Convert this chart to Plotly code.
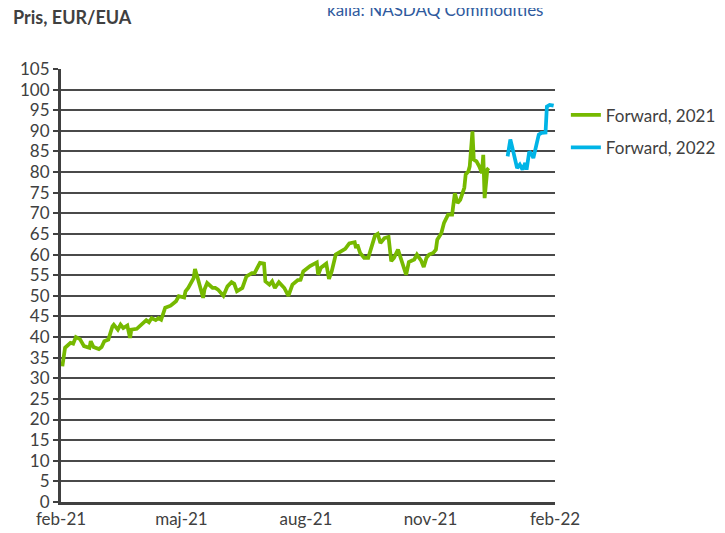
import plotly.graph_objects as go

# Forward, 2021 contract (EUR/EUA)
dates_2021 = [
    "2021-02-02", "2021-02-04", "2021-02-08", "2021-02-10", "2021-02-12", "2021-02-15",
    "2021-02-18", "2021-02-22", "2021-02-23", "2021-02-25", "2021-03-01", "2021-03-03",
    "2021-03-05", "2021-03-08", "2021-03-11", "2021-03-12", "2021-03-15", "2021-03-17",
    "2021-03-19", "2021-03-22", "2021-03-24", "2021-03-25", "2021-03-29", "2021-04-01",
    "2021-04-05", "2021-04-07", "2021-04-09", "2021-04-12", "2021-04-14", "2021-04-16",
    "2021-04-19", "2021-04-23", "2021-04-27", "2021-04-29", "2021-05-03", "2021-05-04",
    "2021-05-06", "2021-05-10", "2021-05-11", "2021-05-13", "2021-05-17", "2021-05-18",
    "2021-05-20", "2021-05-24", "2021-05-26", "2021-05-28", "2021-06-01", "2021-06-04",
    "2021-06-07", "2021-06-09", "2021-06-11", "2021-06-15", "2021-06-18", "2021-06-22",
    "2021-06-24", "2021-06-28", "2021-07-01", "2021-07-02", "2021-07-05", "2021-07-07",
    "2021-07-09", "2021-07-12", "2021-07-16", "2021-07-19", "2021-07-22", "2021-07-26",
    "2021-07-28", "2021-07-30", "2021-08-04", "2021-08-09", "2021-08-10", "2021-08-12",
    "2021-08-16", "2021-08-18", "2021-08-20", "2021-08-23", "2021-08-26", "2021-08-30",
    "2021-09-02", "2021-09-06", "2021-09-07", "2021-09-08", "2021-09-10", "2021-09-13",
    "2021-09-16", "2021-09-19", "2021-09-21", "2021-09-23", "2021-09-25", "2021-09-28",
    "2021-10-01", "2021-10-03", "2021-10-05", "2021-10-08", "2021-10-11", "2021-10-14",
    "2021-10-16", "2021-10-20", "2021-10-22", "2021-10-25", "2021-10-27", "2021-10-29",
    "2021-10-31", "2021-11-03", "2021-11-05", "2021-11-06", "2021-11-09", "2021-11-11",
    "2021-11-14", "2021-11-17", "2021-11-19", "2021-11-21", "2021-11-23", "2021-11-26",
    "2021-11-27", "2021-11-29", "2021-11-30", "2021-12-02", "2021-12-03", "2021-12-05",
    "2021-12-07", "2021-12-09", "2021-12-10", "2021-12-11", "2021-12-13", "2021-12-14",
]
price_2021 = [
    32.9, 37.4, 38.6, 38.4, 40.0, 39.5,
    37.8, 37.4, 39.0, 37.6, 37.1, 37.6,
    39.0, 39.4, 42.6, 43.0, 41.8, 43.0,
    42.2, 42.8, 39.8, 41.8, 42.0, 43.0,
    44.1, 43.6, 44.6, 44.1, 44.6, 44.2,
    47.1, 47.6, 48.7, 49.9, 49.6, 51.1,
    51.9, 54.3, 56.5, 54.3, 49.5, 51.5,
    53.1, 51.9, 51.9, 51.5, 50.0, 52.3,
    53.3, 52.9, 51.1, 51.9, 54.7, 55.5,
    55.5, 58.0, 57.8, 53.5, 52.7, 53.5,
    51.9, 53.3, 51.9, 50.0, 52.7, 53.8,
    53.9, 55.9, 57.2, 58.1, 55.1, 56.8,
    57.8, 54.1, 55.9, 60.0, 60.5, 61.4,
    62.7, 63.0, 61.6, 62.4, 60.4, 59.2,
    59.2, 62.8, 64.6, 65.0, 62.8, 64.0,
    64.3, 58.4, 59.2, 61.2, 58.4, 55.1,
    58.2, 58.8, 60.0, 58.6, 57.0, 59.2,
    60.0, 60.4, 61.2, 63.6, 65.2, 67.7,
    69.7, 69.7, 74.9, 72.5, 73.3, 76.2,
    79.4, 80.2, 81.4, 89.9, 83.0, 82.6,
    81.4, 79.8, 84.2, 73.7, 80.6, 81.0,
]

# Forward, 2022 contract (EUR/EUA)
dates_2022 = [
    "2021-12-28", "2021-12-30", "2021-12-31", "2022-01-02", "2022-01-04", "2022-01-06",
    "2022-01-08", "2022-01-10", "2022-01-11", "2022-01-13", "2022-01-15", "2022-01-16",
    "2022-01-18", "2022-01-20", "2022-01-22", "2022-01-25", "2022-01-26", "2022-01-28",
    "2022-01-31",
]
price_2022 = [
    83.8, 87.9, 86.6, 83.4, 81.0, 81.8,
    80.6, 82.2, 80.6, 85.0, 84.2, 83.4,
    86.6, 89.1, 89.5, 89.6, 95.9, 96.3,
    96.1,
]

x_tick_vals = ["2021-02-01", "2021-05-01", "2021-08-01", "2021-11-01", "2022-02-01"]
x_tick_text = ["feb-21", "maj-21", "aug-21", "nov-21", "feb-22"]

FONT = "Lato, 'Open Sans', sans-serif"
TXT = "#404040"

fig = go.Figure()
fig.add_trace(go.Scatter(x=dates_2021, y=price_2021, mode="lines", name="Forward, 2021",
                         legend="legend",
                         line=dict(color="#76B900", width=3.75)))
fig.add_trace(go.Scatter(x=dates_2022, y=price_2022, mode="lines", name="Forward, 2022",
                         legend="legend2",
                         line=dict(color="#00B4E6", width=3.75)))

leg_style = dict(xanchor="left", yanchor="middle", font=dict(size=17, color=TXT),
                 bgcolor="rgba(0,0,0,0)", borderwidth=0)

fig.update_layout(
    width=725, height=533,
    margin=dict(l=50, r=170, t=61, b=23),
    paper_bgcolor="white", plot_bgcolor="white",
    font=dict(family=FONT, size=17, color=TXT),
    showlegend=True,
    legend=dict(x=1.022, y=0.893, **leg_style),
    legend2=dict(x=1.022, y=0.818, **leg_style),
)
fig.update_xaxes(
    type="date", range=["2021-02-01", "2022-02-01"],
    tickvals=x_tick_vals, ticktext=x_tick_text,
    showgrid=False, showline=True, linecolor=TXT, linewidth=3,
    ticks="", tickfont=dict(size=17, color=TXT),
)
fig.update_yaxes(
    range=[0, 105], dtick=5, tick0=0,
    showgrid=True, gridcolor="#4a4a4a", gridwidth=1.5,
    showline=True, linecolor=TXT, linewidth=3,
    ticks="outside", ticklen=5, tickwidth=2, tickcolor=TXT,
    tickfont=dict(size=17, color=TXT), zeroline=False,
)

fig.add_annotation(text="<b>Pris, EUR/EUA</b>", xref="paper", yref="paper",
                   x=-0.101, y=1.0, xanchor="left", yanchor="middle",
                   yshift=52, font=dict(size=18, color=TXT), showarrow=False)
fig.add_annotation(text="källa: NASDAQ Commodities", xref="paper", yref="paper",
                   x=0.534, y=1.0, xanchor="left", yanchor="middle",
                   yshift=60, font=dict(size=17, color="#2F5A9E"), showarrow=False)

fig.write_html("out.html")
